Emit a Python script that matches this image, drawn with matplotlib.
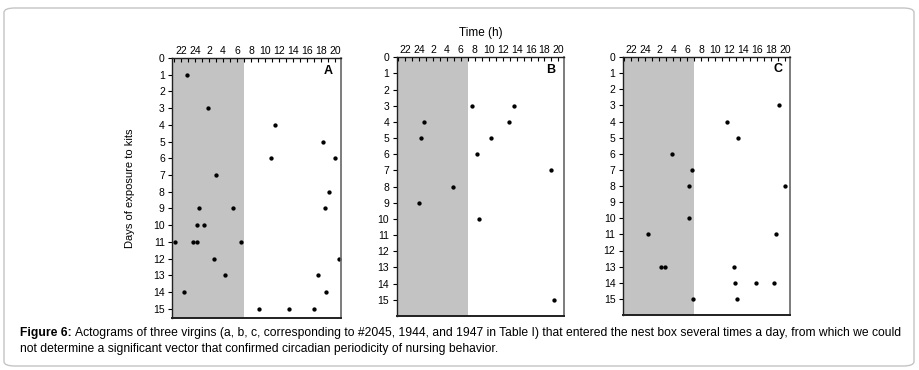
import matplotlib
matplotlib.use("Agg")
import matplotlib.pyplot as plt
from matplotlib.patches import FancyBboxPatch

plt.rcParams['font.family'] = ['Liberation Sans', 'DejaVu Sans']

# clock hours counted from 20:00 of the previous day (24 = midnight, 32 = 8 am ...)
days_a = [1, 3, 4, 5, 6, 6, 7, 8, 9, 9, 9, 10, 10, 11, 11, 11, 11, 12, 12, 13, 13, 14, 14, 15, 15, 15]
hours_a = [22.8, 25.9, 35.45, 42.3, 34.9, 43.9, 26.95, 43.1, 24.57, 29.44, 42.46, 24.33, 25.24,
           21.09, 23.66, 24.28, 30.58, 26.76, 44.56, 28.34, 41.5, 22.47, 42.7, 33.1, 37.4, 40.9]

days_b = [3, 3, 4, 4, 5, 5, 6, 7, 8, 9, 10, 15]
hours_b = [31.65, 37.63, 24.67, 36.86, 24.24, 34.33, 32.32, 42.98, 28.83, 24.0, 32.66, 43.37]

days_c = [3, 4, 5, 6, 7, 8, 8, 10, 11, 11, 13, 13, 13, 14, 14, 14, 15, 15]
hours_c = [43.13, 35.7, 37.28, 27.75, 30.66, 30.28, 44.04, 30.23, 24.42, 42.75,
           26.23, 26.85, 36.75, 36.9, 39.9, 42.47, 30.9, 37.18]

tick_hours = list(range(22, 45, 2))
tick_labels = ['22', '24', '2', '4', '6', '8', '10', '12', '14', '16', '18', '20']
day_ticks = list(range(0, 16))

fig = plt.figure(figsize=(9.2, 3.7), dpi=100)

# rounded frame around the whole figure
frame = FancyBboxPatch((4 / 920, 4 / 370), 910 / 920, 358 / 370,
                       boxstyle="round,pad=0,rounding_size=0.012",
                       transform=fig.transFigure, fc='none', ec='#c4c4c4', lw=1.0)
fig.patches.append(frame)

panels = [
    ('A', hours_a, days_a, [172.5 / 920, 52 / 370, 168.5 / 920, 260 / 370], 15.55),
    ('B', hours_b, days_b, [396.7 / 920, 54 / 370, 167.3 / 920, 258.7 / 370], 16),
    ('C', hours_c, days_c, [623 / 920, 55 / 370, 167.5 / 920, 258 / 370], 16),
]

x0, x1 = 20.8, 44.8
for letter, hrs, dys, pos, ybot in panels:
    ax = fig.add_axes(pos)
    ax.axvspan(x0, 31, color='#c3c3c3', lw=0)
    ax.plot(hrs, dys, 'o', color='black', ms=2.1, clip_on=False)
    ax.set_xlim(x0, x1)
    ax.set_ylim(ybot, 0)
    ax.xaxis.tick_top()
    ax.set_xticks(tick_hours)
    ax.set_xticklabels(tick_labels)
    ax.set_xticks(range(21, 45, 2), minor=True)
    ax.set_yticks(day_ticks)
    ax.tick_params(axis='x', which='both', direction='in', length=3, width=0.8,
                   labelsize=7.5, pad=1.5, colors='black')
    ax.tick_params(axis='y', direction='out', length=3, width=0.8, labelsize=7.5, pad=2.5)
    for side in ['top', 'left', 'bottom']:
        ax.spines[side].set_color('#202020')
        ax.spines[side].set_linewidth(1.0)
    ax.spines['bottom'].set_linewidth(1.4)
    ax.spines['right'].set_color('#666666')
    ax.spines['right'].set_linewidth(1.2)
    ax.text(0.95, 0.975, letter, transform=ax.transAxes, ha='right', va='top',
            fontsize=9, fontweight='bold')
    if letter == 'A':
        ax.set_ylabel('Days of exposure to kits', fontsize=8, labelpad=13)
    if letter == 'B':
        ax.set_title('Time (h)', fontsize=8.5, pad=15)

# caption with bold lead
r = fig.canvas.get_renderer()
t1 = fig.text(20 / 920, 1 - 336 / 370, 'Figure 6:', fontsize=8.7, fontweight='bold')
bb = t1.get_window_extent(renderer=r)
fig.text((bb.x1 + 3) / 920, 1 - 336 / 370,
         'Actograms of three virgins (a, b, c, corresponding to #2045, 1944, and 1947 in Table I) '
         'that entered the nest box several times a day, from which we could', fontsize=8.7)
fig.text(20 / 920, 1 - 352 / 370,
         'not determine a significant vector that confirmed circadian periodicity of nursing behavior.',
         fontsize=8.7)

fig.savefig('out.png', dpi=100)
